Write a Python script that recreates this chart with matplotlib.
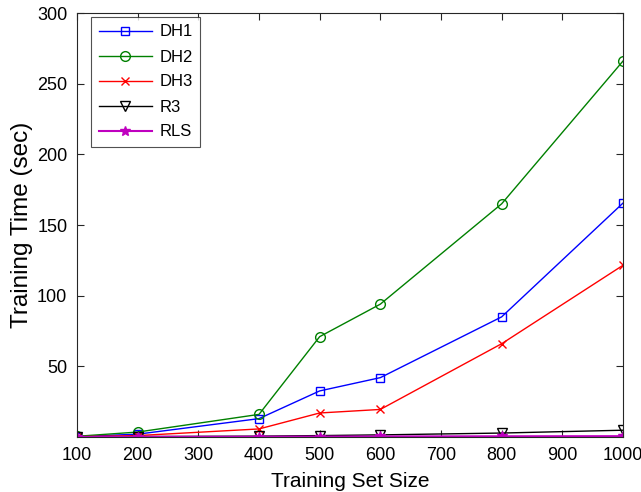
import numpy as np
import matplotlib.pyplot as plt

plt.rcParams['font.family'] = ['Liberation Sans', 'DejaVu Sans']

sizes = [100, 200, 400, 500, 600, 800, 1000]
dh1 = [0.3, 2.0, 13.0, 32.6, 42.0, 85.0, 165.5]
dh2 = [0.5, 3.5, 16.0, 71.0, 94.0, 165.0, 266.0]
dh3 = [0.2, 1.0, 5.7, 17.0, 19.5, 66.0, 121.5]
r3 = [0.1, 0.3, 0.6, 1.0, 1.5, 2.8, 4.8]
rls = [0.05, 0.1, 0.2, 0.3, 0.4, 0.5, 0.6]

fig = plt.figure(figsize=(6.41, 4.92), dpi=100)
ax = fig.add_axes([77/641, 1-437/492, (623-77)/641, (437-13)/492])

ax.plot(sizes, dh1, color='#0000ff', marker='s', mfc='none', ms=5.5, lw=1, label='DH1')
ax.plot(sizes, dh2, color='#008000', marker='o', mfc='none', ms=7, lw=1, label='DH2')
ax.plot(sizes, dh3, color='#ff0000', marker='x', ms=5.5, lw=1, label='DH3')
ax.plot(sizes, r3, color='black', marker='v', mfc='none', ms=7, lw=1, label='R3')
ax.plot(sizes, rls, color='#bf00bf', marker='*', ms=7, lw=1.5, label='RLS')

for s in ax.spines.values():
    s.set_color('#262626')
ax.set_xlim(100, 1000)
ax.set_ylim(0, 300)
ax.set_xticks(np.arange(100, 1001, 100))
ax.set_yticks([50, 100, 150, 200, 250, 300])
ax.tick_params(direction='in', top=True, right=True, labelsize=13, length=5,
               color='#262626', pad=7)
ax.set_xlabel('Training Set Size', fontsize=15, labelpad=6)
ax.set_ylabel('Training Time (sec)', fontsize=17.5, labelpad=3)

leg = ax.legend(loc='upper left', bbox_to_anchor=(14/546, 1-4/424), borderaxespad=0,
                fontsize=12, fancybox=False, edgecolor='#262626', handlelength=3.2,
                borderpad=0.45, labelspacing=0.6, handletextpad=0.45)
leg.get_frame().set_linewidth(0.8)

fig.savefig('out.png', dpi=100)
